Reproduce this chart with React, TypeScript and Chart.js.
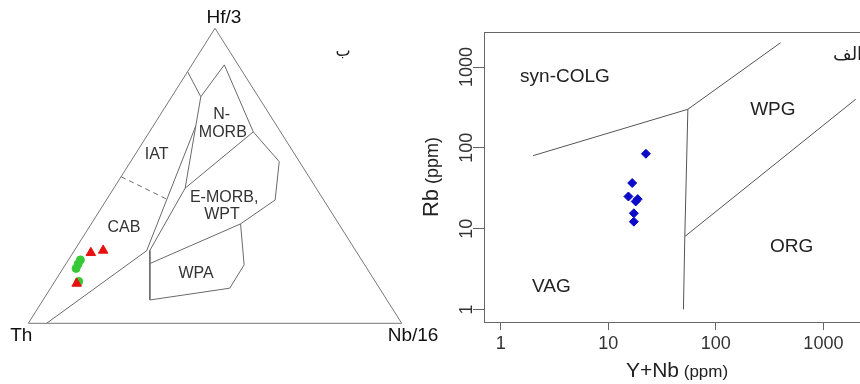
import React, { useEffect, useRef } from "react";
import { Chart, registerables } from "chart.js";

Chart.register(...registerables);

// ---------- Left panel: Hf/3 - Th - Nb/16 ternary (values as % [Th, Hf/3, Nb/16]) ----------
const vertexNames = ["Th", "Hf/3", "Nb/16"];
const triangleOutline = [[100, 0, 0], [0, 0, 100], [0, 100, 0], [100, 0, 0]];
const cabLowerBoundary = [[95.1, 0, 4.9], [56.0, 24.6, 19.4], [21.7, 66.9, 11.4]];
const morbLeftBoundary = [[15.4, 76.8, 7.8], [35.1, 45.8, 19.1]];
const iatNmorbBoundary = [[14.7, 85.3, 0], [15.4, 76.8, 7.8], [3.7, 87.6, 8.7], [7.3, 64.9, 27.8]];
const emorbTopBoundary = [[35.1, 45.8, 19.1], [7.3, 64.9, 27.8]];
const emorbRightBoundary = [[7.3, 64.9, 27.8], [5.4, 54.8, 39.8], [13.0, 41.8, 45.2], [26.3, 33.7, 40.0]];
const emorbLeftBoundary = [[35.1, 45.8, 19.1], [55.1, 24.7, 20.2], [63.5, 7.9, 28.6]];
const wpaBoundary = [[57.2, 20.3, 22.5], [26.3, 33.7, 40.0], [32.3, 19.8, 47.9], [40.1, 11.9, 48.0], [63.5, 7.9, 28.6]];
const iatCabDashed = [[50.3, 49.7, 0], [41.9, 42.1, 16.0]];
const redTriangleSamples = [[71.3, 23.9, 4.8], [67.6, 24.7, 7.7], [80.3, 13.5, 6.2]];
const greenCircleSamples = [[75.3, 21.5, 3.2], [76.6, 20.1, 3.3], [77.9, 18.6, 3.5], [79.4, 14.2, 6.4]];
const ternaryFieldNames = ["IAT", "CAB", "N-", "MORB", "E-MORB,", "WPT", "WPA"];
const ternaryFieldPositions = [
  [37.1, 57.1, 5.8], [58.2, 32.4, 9.4], [12.9, 70.6, 16.5], [15.6, 64.6, 19.8],
  [26.2, 42.7, 31.1], [29.8, 36.7, 33.5], [46.7, 16.7, 36.6],
];
const leftPanelTag = "ب";

// ---------- Right panel: Rb vs Y+Nb (ppm), log-log ----------
const synColgVagBoundary = [[2, 80], [55, 300], [400, 2000]];
const vagWpgBoundary = [[55, 300], [51.5, 8], [50, 1]];
const wpgOrgBoundary = [[51.5, 8], [2000, 400]];
const sampleYNb = [22.4, 16.7, 15.4, 18.8, 18.0, 17.3, 17.3];
const sampleRb = [84.5, 36.7, 25.0, 23.2, 21.7, 15.5, 12.2];
const xTickValues = [1, 10, 100, 1000];
const yTickValues = [1, 10, 100, 1000];
const discFieldNames = ["syn-COLG", "WPG", "ORG", "VAG"];
const discFieldX = [3.96, 339, 507, 2.96];
const discFieldY = [747, 296, 5.95, 1.92];
const rightPanelTag = "الف";

const FONT = "'Liberation Sans', Arial, sans-serif";

function toXY(p: number[]) {
  const s = p[0] + p[1] + p[2];
  const hf = p[1] / s;
  const nb = p[2] / s;
  return { x: nb + hf / 2, y: hf };
}

function lineSet(pts: number[][], color = "#6a6a6a", dash: number[] = []) {
  return {
    data: pts.map(toXY),
    showLine: true,
    borderColor: color,
    borderWidth: 1,
    borderDash: dash,
    pointRadius: 0,
    pointHoverRadius: 0,
    fill: false,
    clip: false as const,
  };
}

function leftConfig(): any {
  const labelsPlugin = {
    id: "ternaryLabels",
    afterDatasetsDraw(chart: any) {
      const { ctx, scales } = chart;
      const px = (p: number[]) => {
        const q = toXY(p);
        return [scales.x.getPixelForValue(q.x), scales.y.getPixelForValue(q.y)];
      };
      ctx.save();
      ctx.fillStyle = "#333";
      ctx.font = `16px ${FONT}`;
      ctx.textAlign = "center";
      ctx.textBaseline = "middle";
      ternaryFieldNames.forEach((n, i) => {
        const [x, y] = px(ternaryFieldPositions[i]);
        ctx.fillText(n, x, y);
      });
      ctx.fillStyle = "#111";
      ctx.font = `19px ${FONT}`;
      const [thx, thy] = px([100, 0, 0]);
      const [hfx, hfy] = px([0, 100, 0]);
      const [nbx, nby] = px([0, 0, 100]);
      ctx.fillText(vertexNames[1], hfx + 9, hfy - 11);
      ctx.fillText(vertexNames[0], thx - 7, thy + 12);
      ctx.textAlign = "left";
      ctx.fillText(vertexNames[2], nbx - 14, nby + 12);
      ctx.font = `16px 'DejaVu Sans', sans-serif`;
      ctx.textAlign = "center";
      ctx.fillStyle = "#222";
      ctx.fillText(leftPanelTag, 343, 52);
      ctx.restore();
    },
  };
  return {
    type: "scatter",
    data: {
      datasets: [
        lineSet(triangleOutline, "#777"),
        lineSet(cabLowerBoundary),
        lineSet(morbLeftBoundary),
        lineSet(iatNmorbBoundary),
        lineSet(emorbTopBoundary),
        lineSet(emorbRightBoundary),
        lineSet(emorbLeftBoundary),
        lineSet(wpaBoundary),
        lineSet(iatCabDashed, "#666", [5, 4]),
        {
          data: redTriangleSamples.map(toXY),
          pointStyle: "triangle",
          pointRadius: 5.5,
          backgroundColor: "#e81010",
          borderColor: "#e81010",
          borderWidth: 1,
          clip: false,
        },
        {
          data: greenCircleSamples.map(toXY),
          pointStyle: "circle",
          pointRadius: 4,
          backgroundColor: "#36c936",
          borderColor: "#36c936",
          borderWidth: 1,
          clip: false,
        },
      ],
    },
    options: {
      responsive: false,
      animation: false,
      events: [],
      layout: { padding: { left: 28.3, right: 450 - 401.7, top: 28.3, bottom: 384 - 323.3 } },
      plugins: { legend: { display: false }, tooltip: { enabled: false } },
      scales: {
        x: { type: "linear", min: 0, max: 1, display: false },
        y: { type: "linear", min: 0, max: 1, display: false },
      },
    },
    plugins: [labelsPlugin],
  };
}

function rightConfig(): any {
  const decorPlugin = {
    id: "discDecor",
    afterDatasetsDraw(chart: any) {
      const { ctx, chartArea: a, scales } = chart;
      ctx.save();
      // box
      ctx.strokeStyle = "#666";
      ctx.lineWidth = 1;
      ctx.strokeRect(Math.round(a.left) + 0.5, Math.round(a.top) + 0.5, Math.round(a.right - a.left), Math.round(a.bottom - a.top));
      // y tick labels (rotated, R style)
      ctx.fillStyle = "#333";
      ctx.font = `18px ${FONT}`;
      ctx.textAlign = "center";
      ctx.textBaseline = "alphabetic";
      for (const v of yTickValues) {
        const py = scales.y.getPixelForValue(v);
        ctx.save();
        ctx.translate(a.left - 12, py);
        ctx.rotate(-Math.PI / 2);
        ctx.fillText(String(v), 0, 0);
        ctx.restore();
      }
      // field labels
      ctx.fillStyle = "#222";
      ctx.font = `19px ${FONT}`;
      ctx.textBaseline = "middle";
      discFieldNames.forEach((n, i) => {
        ctx.fillText(n, scales.x.getPixelForValue(discFieldX[i]), scales.y.getPixelForValue(discFieldY[i]));
      });
      // x title
      ctx.textBaseline = "alphabetic";
      ctx.textAlign = "left";
      ctx.font = `21px ${FONT}`;
      const w1 = ctx.measureText("Y+Nb").width;
      ctx.font = `17px ${FONT}`;
      const w2 = ctx.measureText(" (ppm)").width;
      const cx = (a.left + a.right) / 2;
      let x0 = cx - (w1 + w2) / 2;
      ctx.font = `21px ${FONT}`;
      ctx.fillText("Y+Nb", x0, 376.5);
      ctx.font = `17px ${FONT}`;
      ctx.fillText(" (ppm)", x0 + w1, 376.5);
      // y title
      ctx.font = `22px ${FONT}`;
      const h1 = ctx.measureText("Rb").width;
      ctx.font = `18px ${FONT}`;
      const h2 = ctx.measureText(" (ppm)").width;
      const cy = (a.top + a.bottom) / 2;
      ctx.save();
      ctx.translate(28, cy + (h1 + h2) / 2);
      ctx.rotate(-Math.PI / 2);
      ctx.font = `22px ${FONT}`;
      ctx.fillText("Rb", 0, 0);
      ctx.font = `18px ${FONT}`;
      ctx.fillText(" (ppm)", h1, 0);
      ctx.restore();
      // panel tag
      ctx.font = `18px 'DejaVu Sans', sans-serif`;
      ctx.textBaseline = "middle";
      ctx.fillStyle = "#222";
      ctx.fillText(rightPanelTag, 833 - 410, 55);
      ctx.restore();
    },
  };
  const seg = (pts: number[][]) => ({
    data: pts.map((p) => ({ x: p[0], y: p[1] })),
    showLine: true,
    borderColor: "#555",
    borderWidth: 1,
    pointRadius: 0,
    pointHoverRadius: 0,
    fill: false,
  });
  return {
    type: "scatter",
    data: {
      datasets: [
        seg(synColgVagBoundary),
        seg(vagWpgBoundary),
        seg(wpgOrgBoundary),
        {
          data: sampleYNb.map((x, i) => ({ x, y: sampleRb[i] })),
          pointStyle: "rectRot",
          pointRadius: 4.5,
          backgroundColor: "#0b0bc8",
          borderColor: "#0b0bc8",
          borderWidth: 1,
        },
      ],
    },
    options: {
      responsive: false,
      animation: false,
      events: [],
      layout: { padding: { left: 0, right: 10, top: 32, bottom: 0 } },
      plugins: { legend: { display: false }, tooltip: { enabled: false } },
      scales: {
        x: {
          type: "logarithmic",
          position: "bottom",
          min: 0.738,
          max: 2712,
          afterBuildTicks: (s: any) => {
            s.ticks = xTickValues.map((v) => ({ value: v }));
          },
          afterFit: (s: any) => {
            s.height = 62;
          },
          ticks: {
            callback: (v: any) => String(v),
            autoSkip: false,
            maxRotation: 0,
            minRotation: 0,
            padding: 3,
            color: "#333",
            font: { size: 18, family: FONT },
          },
          grid: { drawOnChartArea: false, drawTicks: true, tickLength: 8, color: "#666" },
          border: { display: false },
        },
        y: {
          type: "logarithmic",
          position: "left",
          min: 0.738,
          max: 2712,
          afterBuildTicks: (s: any) => {
            s.ticks = yTickValues.map((v) => ({ value: v }));
          },
          afterFit: (s: any) => {
            s.width = 74;
          },
          ticks: { display: false },
          grid: { drawOnChartArea: false, drawTicks: true, tickLength: 11, color: "#666" },
          border: { display: false },
        },
      },
    },
    plugins: [decorPlugin],
  };
}

export default function App() {
  const leftRef = useRef<HTMLCanvasElement>(null);
  const rightRef = useRef<HTMLCanvasElement>(null);
  useEffect(() => {
    const left = new Chart(leftRef.current as HTMLCanvasElement, leftConfig());
    const right = new Chart(rightRef.current as HTMLCanvasElement, rightConfig());
    return () => {
      left.destroy();
      right.destroy();
    };
  }, []);
  return (
    <div
      style={{
        position: "fixed",
        left: 0,
        top: 0,
        width: 860,
        height: 384,
        overflow: "hidden",
        background: "#fff",
      }}
    >
      <canvas ref={leftRef} width={450} height={384} style={{ position: "absolute", left: 0, top: 0 }} />
      <canvas ref={rightRef} width={470} height={384} style={{ position: "absolute", left: 410, top: 0 }} />
    </div>
  );
}
